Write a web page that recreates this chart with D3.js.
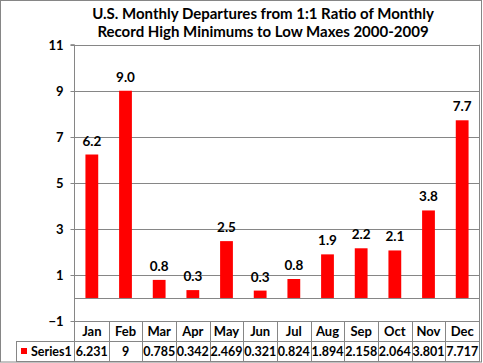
<!DOCTYPE html>
<html><head><meta charset="utf-8">
<script src="https://cdn.jsdelivr.net/npm/d3@7"></script>
<style>body{margin:0;background:#fff}svg{display:block}text{font-family:Lato,"Open Sans",sans-serif;font-weight:bold;fill:#000}</style>
</head><body><svg id="c" width="483" height="363"></svg>
<script>
const categories = ["Jan","Feb","Mar","Apr","May","Jun","Jul","Aug","Sep","Oct","Nov","Dec"];
const values = [6.231, 9, 0.785, 0.342, 2.469, 0.321, 0.824, 1.894, 2.158, 2.064, 3.801, 7.717];
const seriesName = "Series1";
const yTicks = [-1, 1, 3, 5, 7, 9, 11];
const titleLines = ["U.S. Monthly Departures from 1:1 Ratio of Monthly", "Record High Minimums to Low Maxes 2000-2009"];

const svg = d3.select("#c");
const grid = "#868686";
const L = 75, R = 479, T = 44.7, B = 321;
const y = d3.scaleLinear().domain([-1, 11]).range([B, T]);
const x = d3.scaleBand().domain(categories).range([L, R]).paddingInner(0.62).paddingOuter(0.31);
const xc = d3.scaleBand().domain(categories).range([L, R]);

// outer border
svg.append("rect").attr("x", 0.5).attr("y", 0.5).attr("width", 481).attr("height", 361.5)
  .attr("fill", "none").attr("stroke", grid);

// title
svg.append("g").selectAll("text").data(titleLines).join("text")
  .attr("x", 263).attr("y", (d, i) => 18.5 + i * 18.5)
  .attr("text-anchor", "middle").style("font-size", "15px").text(d => d);

// gridlines
svg.append("g").selectAll("line").data(yTicks.filter(t => t > -1)).join("line")
  .attr("x1", L - 1).attr("x2", R).attr("y1", d => Math.round(y(d)) + 0.5).attr("y2", d => Math.round(y(d)) + 0.5)
  .attr("stroke", grid);

// y axis
const yAxis = d3.axisLeft(y).tickValues(yTicks).tickSize(4).tickPadding(7).tickFormat(d3.format("d"));
const ga = svg.append("g").attr("transform", `translate(${L - 0.5},0)`).call(yAxis);
ga.select(".domain").attr("stroke", grid).attr("d", `M-4,${T}H0V${B}`);
ga.selectAll(".tick line").attr("stroke", grid).attr("transform", "translate(0,0.5)");
ga.selectAll(".tick text").style("font-size", "13px").style("font-family", "Lato").attr("fill", "#000").attr("dy", "0.35em");
ga.selectAll(".tick").attr("transform", d => `translate(0,${Math.round(y(d))})`);

// bars
svg.append("g").selectAll("rect").data(values).join("rect")
  .attr("x", (d, i) => x(categories[i])).attr("width", x.bandwidth())
  .attr("y", d => y(d)).attr("height", d => y(0) - y(d)).attr("fill", "#ff0000");

// zero axis line
svg.append("line").attr("x1", L - 0.5).attr("x2", R).attr("y1", Math.round(y(0)) + 0.5).attr("y2", Math.round(y(0)) + 0.5).attr("stroke", grid);
// plot right edge
svg.append("line").attr("x1", R + 0.5).attr("x2", R + 0.5).attr("y1", T).attr("y2", 362).attr("stroke", grid);

// data labels
svg.append("g").selectAll("text").data(values).join("text")
  .attr("x", (d, i) => x(categories[i]) + x.bandwidth() / 2).attr("y", d => y(d) - 9)
  .attr("text-anchor", "middle").style("font-size", "13.5px").text(d => d3.format(".1f")(d));

// data table
const r0 = B, r1 = 341, r2 = 361.5;
const tg = svg.append("g");
[[L - 0.5, R, r0 + 0.5], [16, R, r1 + 0.5], [16, R, r2]].forEach(([a, b, yy]) =>
  tg.append("line").attr("x1", a).attr("x2", b).attr("y1", yy).attr("y2", yy).attr("stroke", grid));
tg.append("line").attr("x1", 16.5).attr("x2", 16.5).attr("y1", r1).attr("y2", r2).attr("stroke", grid);
tg.selectAll("line.col").data(categories.slice(1)).join("line").attr("class", "col")
  .attr("x1", d => Math.round(xc(d)) + 0.5).attr("x2", d => Math.round(xc(d)) + 0.5)
  .attr("y1", r0).attr("y2", r2).attr("stroke", grid);
tg.append("line").attr("x1", L - 0.5).attr("x2", L - 0.5).attr("y1", B).attr("y2", r2).attr("stroke", grid);
tg.selectAll("text.h").data(categories).join("text").attr("class", "h")
  .attr("x", d => xc(d) + xc.bandwidth() / 2).attr("y", 336).attr("text-anchor", "middle")
  .style("font-size", "13px").text(d => d);
tg.selectAll("text.v").data(values).join("text").attr("class", "v")
  .attr("x", (d, i) => xc(categories[i]) + xc.bandwidth() / 2).attr("y", 356).attr("text-anchor", "middle")
  .style("font-size", "12.5px").text(d => String(d));
tg.append("rect").attr("x", 21).attr("y", 348).attr("width", 6).attr("height", 6).attr("fill", "#ff0000");
tg.append("text").attr("x", 31).attr("y", 356).style("font-size", "12.5px").text(seriesName);
</script></body></html>
